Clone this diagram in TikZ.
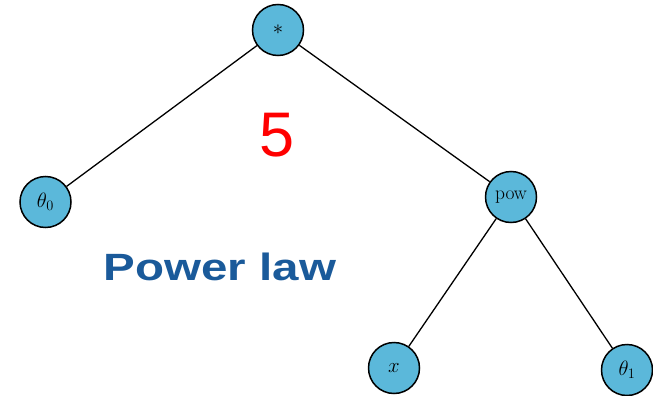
\documentclass[tikz,border=0pt]{standalone}
\usepackage{fontspec}
\setsansfont{Liberation Sans}
\definecolor{nodefill}{HTML}{5BB8DA}
\definecolor{titleblue}{HTML}{1A5A9A}
\begin{document}
\begin{tikzpicture}[x=1pt,y=-1pt,
  tnode/.style={circle,draw=black,line width=1.5pt,fill=nodefill,minimum size=51pt,inner sep=0pt,font=\fontsize{19.5}{22}\selectfont},
  edge/.style={line width=1.3pt,black}]
\useasboundingbox (0,0) rectangle (653,396);
\node[tnode] (root) at (278,30) {$*$};
\node[tnode] (t0) at (45.5,202) {$\theta_0$};
\node[tnode] (pow) at (511,197) {pow};
\node[tnode] (x) at (394,368) {$x$};
\node[tnode] (t1) at (627,370) {$\theta_1$};
\draw[edge] (root) -- (t0);
\draw[edge] (root) -- (pow);
\draw[edge] (pow) -- (x);
\draw[edge] (pow) -- (t1);
\node[text=red,font=\sffamily\fontsize{63}{70}\selectfont,inner sep=0pt] (five) at (277,135) {5};
\node[text=titleblue,font=\sffamily\bfseries\fontsize{38}{42}\selectfont,inner sep=0pt] (title) at (220,267) {\scalebox{1.25}[1]{Power law}};
\end{tikzpicture}
\end{document}
